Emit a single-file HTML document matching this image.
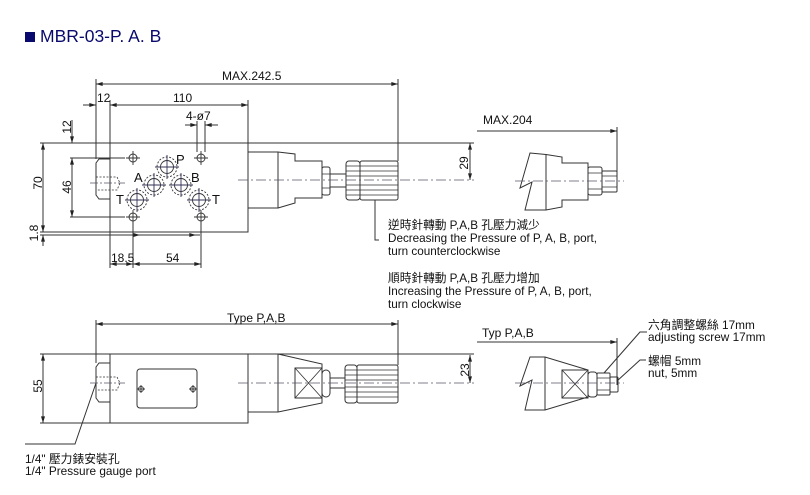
<!DOCTYPE html>
<html><head><meta charset="utf-8">
<style>
html,body{margin:0;padding:0;background:#fff;}
svg{display:block;}
text{font-family:"Liberation Sans","Noto Sans CJK TC",sans-serif;fill:#111;font-size:12px;}
</style></head><body>
<svg width="810" height="495" viewBox="0 0 810 495" xmlns="http://www.w3.org/2000/svg">
<defs>
<marker id="ar" viewBox="0 0 10 6" refX="10" refY="3" markerWidth="7" markerHeight="4" orient="auto-start-reverse" markerUnits="userSpaceOnUse">
<path d="M0,0 L10,3 L0,6 z" fill="#222"/>
</marker>
</defs>

<!-- Title -->
<rect x="25" y="32" width="10" height="10" fill="#0a0a6e"/>
<text x="40" y="42" style="font-size:17.5px;fill:#0a0a6e">MBR-03-P. A. B</text>

<g stroke="#333" stroke-width="1" fill="none">
<!-- ===== TOP VIEW ===== -->
<line x1="96" y1="84" x2="398" y2="84" marker-start="url(#ar)" marker-end="url(#ar)"/>
<line x1="96" y1="79" x2="96" y2="159"/>
<line x1="398" y1="79" x2="398" y2="161"/>
<line x1="83" y1="105" x2="96" y2="105" marker-end="url(#ar)"/>
<line x1="110" y1="105" x2="248" y2="105" marker-start="url(#ar)" marker-end="url(#ar)"/>
<line x1="110" y1="100" x2="110" y2="143"/>
<line x1="248" y1="100" x2="248" y2="143"/>
<line x1="185" y1="125" x2="197" y2="125" marker-end="url(#ar)"/>
<line x1="218" y1="125" x2="205" y2="125" marker-end="url(#ar)"/>
<line x1="197" y1="121" x2="197" y2="152"/>
<line x1="205" y1="121" x2="205" y2="152"/>

<rect x="110" y="143" width="138" height="89"/>
<line x1="40" y1="143" x2="110" y2="143"/>
<line x1="248" y1="143" x2="474" y2="143"/>
<line x1="40" y1="232" x2="110" y2="232"/>
<line x1="40" y1="235" x2="200" y2="235"/>
<line x1="130" y1="235" x2="140" y2="235" marker-end="url(#ar)"/>
<line x1="186" y1="235" x2="196" y2="235" marker-end="url(#ar)"/>
<line x1="43" y1="143" x2="43" y2="232" marker-start="url(#ar)" marker-end="url(#ar)"/>
<line x1="43" y1="246" x2="43" y2="235" marker-end="url(#ar)"/>
<line x1="72" y1="120" x2="72" y2="143" marker-end="url(#ar)"/>
<line x1="72" y1="158" x2="72" y2="217" marker-start="url(#ar)" marker-end="url(#ar)"/>
<line x1="70" y1="158" x2="125" y2="158"/>
<line x1="70" y1="217" x2="125" y2="217"/>
<line x1="110" y1="232" x2="110" y2="268"/>
<line x1="133" y1="221" x2="133" y2="268"/>
<line x1="201" y1="221" x2="201" y2="268"/>
<line x1="110" y1="264" x2="133" y2="264" marker-start="url(#ar)" marker-end="url(#ar)"/>
<line x1="133" y1="264" x2="201" y2="264" marker-start="url(#ar)" marker-end="url(#ar)"/>

<!-- small holes -->
<g stroke-width="0.9">
<circle cx="133" cy="158" r="4"/><path d="M126,158H140M133,151V165"/>
<circle cx="201" cy="158" r="4"/><path d="M194,158H208M201,151V165"/>
<circle cx="133" cy="217" r="4"/><path d="M126,217H140M133,210V224"/>
<circle cx="201" cy="217" r="4"/><path d="M194,217H208M201,210V224"/>
</g>
<!-- big ports -->
<g stroke-width="0.9">
<circle cx="167" cy="167" r="10" stroke-dasharray="2,1.5"/><circle cx="167" cy="167" r="6.5"/><path d="M155,167H179M167,155V179" stroke="#335"/>
<circle cx="154" cy="185" r="10" stroke-dasharray="2,1.5"/><circle cx="154" cy="185" r="6.5"/><path d="M142,185H166M154,173V197" stroke="#335"/>
<circle cx="181" cy="185" r="10" stroke-dasharray="2,1.5"/><circle cx="181" cy="185" r="6.5"/><path d="M169,185H193M181,173V197" stroke="#335"/>
<circle cx="137" cy="200" r="10" stroke-dasharray="2,1.5"/><circle cx="137" cy="200" r="6.5"/><path d="M125,200H149M137,188V212" stroke="#335"/>
<circle cx="199" cy="200" r="10" stroke-dasharray="2,1.5"/><circle cx="199" cy="200" r="6.5"/><path d="M187,200H211M199,188V212" stroke="#335"/>
</g>

<!-- gauge port top -->
<path d="M110,159 H99 L96,163 V195 L99,199 H110"/>
<path d="M96,177 H117 L120,183 L117,190 H96" stroke-dasharray="2,1.5" stroke-width="0.8"/>
<line x1="90" y1="183" x2="125" y2="183" stroke="#556" stroke-dasharray="8,2,2,2" stroke-width="0.8"/>

<!-- adjuster top -->
<path d="M248,152 H278 V208 H248"/>
<path d="M278,152 L295,154 V161 H322 V198 H295 V203 L278,208"/>
<rect x="322" y="167" width="8" height="28" rx="2"/>
<path d="M322,174H330M322,188H330" stroke-width="0.8"/>
<path d="M330,174H346M330,187H346"/>
<rect x="346" y="161" width="14" height="39" rx="3"/>
<rect x="360" y="161" width="38" height="39" rx="2"/>
<path d="M346,166H398M346,171H398M346,176H398M346,185H398M346,190H398M346,195H398" stroke-width="0.8"/>
<line x1="238" y1="180" x2="474" y2="180" stroke="#556" stroke-dasharray="10,3,2,3" stroke-width="0.8"/>
<path d="M375,200 V240 H379"/>
<line x1="470" y1="143" x2="470" y2="180" marker-start="url(#ar)" marker-end="url(#ar)"/>

<!-- top right piece -->
<line x1="477" y1="131" x2="617" y2="131" marker-end="url(#ar)"/>
<line x1="617" y1="127" x2="617" y2="183"/>
<path d="M530,153 L546,154.5 L562,157 V163 H588 V200 H562 V207 L546,210 H525 L532,182 L520,188 Z"/>
<line x1="546" y1="154.5" x2="546" y2="210"/>
<rect x="588" y="167" width="14" height="28" rx="2"/>
<path d="M588,173H602M588,189H602" stroke-width="0.8"/>
<rect x="602" y="171" width="15" height="21" rx="1"/>
<path d="M602,176H617M602,187H617" stroke-width="0.8"/>
<line x1="515" y1="181" x2="624" y2="181" stroke="#556" stroke-dasharray="10,3,2,3" stroke-width="0.8"/>

<!-- ===== BOTTOM VIEW ===== -->
<line x1="96" y1="324" x2="398" y2="324" marker-start="url(#ar)" marker-end="url(#ar)"/>
<line x1="96" y1="320" x2="96" y2="363"/>
<line x1="398" y1="320" x2="398" y2="365"/>
<rect x="110" y="354" width="138" height="69"/>
<line x1="40" y1="354" x2="110" y2="354"/>
<line x1="248" y1="354" x2="474" y2="354"/>
<line x1="40" y1="423" x2="110" y2="423"/>
<line x1="43" y1="354" x2="43" y2="423" marker-start="url(#ar)" marker-end="url(#ar)"/>
<rect x="137" y="369" width="60" height="39" rx="3"/>
<g stroke-width="0.9">
<circle cx="141" cy="389" r="2.5"/><path d="M137,389H145M141,385V393"/>
<circle cx="193" cy="389" r="2.5"/><path d="M189,389H197M193,385V393"/>
</g>
<path d="M110,363 H99 L96,367 V398 L99,402 H110"/>
<path d="M96,377 H117 L120,383 L117,390 H96" stroke-dasharray="2,1.5" stroke-width="0.8"/>
<line x1="90" y1="383" x2="125" y2="383" stroke="#556" stroke-dasharray="8,2,2,2" stroke-width="0.8"/>
<path d="M96,383 L75,444 H25"/>

<path d="M248,354 H278 V412 H248"/>
<path d="M278,354 L322,364 V403 L278,412"/>
<rect x="295" y="368" width="27" height="30"/>
<path d="M295,368L322,398M322,368L295,398" stroke-width="0.8"/>
<rect x="322" y="370" width="8" height="27" rx="4"/>
<path d="M330,378H345M330,388H345"/>
<rect x="345" y="365" width="12" height="38" rx="3"/>
<rect x="357" y="365" width="41" height="38" rx="2"/>
<path d="M345,370H398M345,375H398M345,380H398M345,387H398M345,392H398M345,397H398" stroke-width="0.8"/>
<line x1="238" y1="383" x2="474" y2="383" stroke="#556" stroke-dasharray="10,3,2,3" stroke-width="0.8"/>
<line x1="470" y1="355" x2="470" y2="383" marker-start="url(#ar)" marker-end="url(#ar)"/>

<!-- bottom right piece -->
<line x1="477" y1="342" x2="617" y2="342" marker-end="url(#ar)"/>
<line x1="617" y1="338" x2="617" y2="385"/>
<path d="M530,357 H545 L588,370 V397 L545,410 H525 L532,380 L520,386 Z"/>
<line x1="545" y1="357" x2="545" y2="410"/>
<rect x="562" y="370" width="26" height="28"/>
<path d="M562,370L588,398M588,370L562,398" stroke-width="0.8"/>
<rect x="588" y="372" width="9" height="25" rx="3"/>
<rect x="597" y="373" width="13" height="22" rx="1"/>
<path d="M597,378H610M597,390H610" stroke-width="0.8"/>
<rect x="610" y="377" width="8" height="15" rx="1"/>
<line x1="515" y1="383" x2="624" y2="383" stroke="#556" stroke-dasharray="10,3,2,3" stroke-width="0.8"/>
<path d="M604,373 L640,332 H647"/>
<path d="M617,381 L640,360 H646"/>
</g>

<!-- texts top -->
<text x="222" y="80">MAX.242.5</text>
<text x="97" y="102">12</text>
<text x="173" y="102">110</text>
<text x="186" y="120">4-ø7</text>
<text transform="translate(42,183) rotate(-90)" text-anchor="middle">70</text>
<text transform="translate(71,187) rotate(-90)" text-anchor="middle">46</text>
<text transform="translate(71,127) rotate(-90)" text-anchor="middle">12</text>
<text transform="translate(38,233) rotate(-90)" text-anchor="middle">1.8</text>
<text x="111" y="262">18.5</text>
<text x="166" y="262">54</text>
<text x="176" y="164" style="font-size:13px">P</text>
<text x="134" y="182" style="font-size:13px">A</text>
<text x="191" y="182" style="font-size:13px">B</text>
<text x="116" y="204" style="font-size:13px">T</text>
<text x="212" y="204" style="font-size:13px">T</text>
<text transform="translate(468,163) rotate(-90)" text-anchor="middle">29</text>
<text x="483" y="124">MAX.204</text>

<text x="388" y="229" style="font-size:11.7px">逆時針轉動 P,A,B 孔壓力減少</text>
<text x="388" y="242" style="font-size:11.7px">Decreasing the Pressure of P, A, B, port,</text>
<text x="388" y="255" style="font-size:11.7px">turn counterclockwise</text>
<text x="388" y="282" style="font-size:11.7px">順時針轉動 P,A,B 孔壓力增加</text>
<text x="388" y="295" style="font-size:11.7px">Increasing the Pressure of P, A, B, port,</text>
<text x="388" y="308" style="font-size:11.7px">turn clockwise</text>

<!-- texts bottom -->
<text x="227" y="322">Type P,A,B</text>
<text transform="translate(42,386) rotate(-90)" text-anchor="middle">55</text>
<text transform="translate(469,370) rotate(-90)" text-anchor="middle">23</text>
<text x="482" y="337">Typ P,A,B</text>
<text x="648" y="329" style="font-size:11.8px">六角調整螺絲 17mm</text>
<text x="648" y="341" style="font-size:11.8px">adjusting screw 17mm</text>
<text x="648" y="365" style="font-size:11.8px">螺帽 5mm</text>
<text x="648" y="377" style="font-size:11.8px">nut, 5mm</text>
<text x="25" y="463" style="font-size:11.8px">1/4" 壓力錶安裝孔</text>
<text x="25" y="475" style="font-size:11.8px">1/4" Pressure gauge port</text>
</svg>
</body></html>
